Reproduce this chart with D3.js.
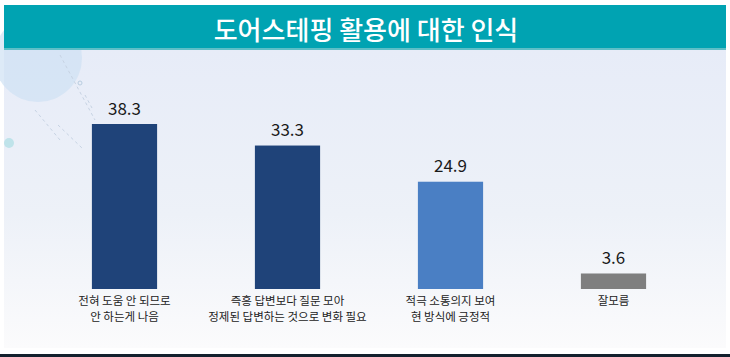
<!DOCTYPE html>
<html><head><meta charset="utf-8">
<script src="https://cdn.jsdelivr.net/npm/d3@7"></script>
<style>html,body{margin:0;padding:0;background:#fff;}svg{display:block;}</style>
</head><body>
<script>
const categories = ["전혀 도움 안 되므로\n안 하는게 나음", "즉흥 답변보다 질문 모아\n정제된 답변하는 것으로 변화 필요", "적극 소통의지 보여\n현 방식에 긍정적", "잘모름"];
const values = [38.3, 33.3, 24.9, 3.6];
const barColors = ["#1f4379", "#1f4379", "#4a7fc4", "#7f7f7f"];
const title = "도어스테핑 활용에 대한 인식";

const W = 730, H = 357;
const svg = d3.select("body").append("svg").attr("width", W).attr("height", H);
const defs = svg.append("defs");
const grad = defs.append("linearGradient").attr("id", "bg").attr("x1", 0).attr("x2", 0).attr("y1", 0).attr("y2", 1);
grad.append("stop").attr("offset", "0%").attr("stop-color", "#e7ecf8");
grad.append("stop").attr("offset", "55%").attr("stop-color", "#edf1f8");
grad.append("stop").attr("offset", "100%").attr("stop-color", "#fbfbfc");

svg.append("rect").attr("x", 4).attr("y", 50).attr("width", 722).attr("height", 298).attr("fill", "url(#bg)");
// decoration
svg.append("circle").attr("cx", 38).attr("cy", 58).attr("r", 44).attr("fill", "#cfe1f3").attr("opacity", 0.7);
svg.append("circle").attr("cx", 9).attr("cy", 143).attr("r", 5).attr("fill", "#bfe3ea");
svg.append("circle").attr("cx", 80).attr("cy", 83).attr("r", 2).attr("fill", "none").attr("stroke", "#b9cde0");
const deco = [[60,55,95,120],[35,110,60,140],[58,125,82,148],[85,95,92,108]];
svg.selectAll("line.deco").data(deco).join("line").attr("class","deco")
  .attr("x1", d=>d[0]).attr("y1", d=>d[1]).attr("x2", d=>d[2]).attr("y2", d=>d[3])
  .attr("stroke", "#c7d3e3").attr("stroke-width", 1).attr("stroke-dasharray", "3,3");

// title banner
svg.append("rect").attr("x", 4).attr("y", 5).attr("width", 722).attr("height", 45).attr("fill", "#00a3b2");
svg.append("rect").attr("x", 4).attr("y", 48).attr("width", 722).attr("height", 2).attr("fill", "#5dbfc7");
svg.append("text").attr("x", 366).attr("y", 28).attr("text-anchor", "middle").attr("dominant-baseline", "central")
  .attr("fill", "#fff").attr("font-family", "Noto Sans CJK KR").attr("font-weight", 500).attr("font-size", 26)
  .text(title);

// bottom line
svg.append("rect").attr("x", 0).attr("y", 354).attr("width", W).attr("height", 3).attr("fill", "#13202d");

const x = d3.scaleBand().domain(categories).range([43, 695]).paddingInner(0.6).paddingOuter(0.3);
const y = d3.scaleLinear().domain([0, 38.3]).range([289, 124]);

const g = svg.append("g");
g.selectAll("rect.bar").data(values).join("rect").attr("class", "bar")
  .attr("x", (d, i) => x(categories[i])).attr("width", x.bandwidth())
  .attr("y", d => y(d)).attr("height", d => y(0) - y(d))
  .attr("fill", (d, i) => barColors[i]);

g.selectAll("text.val").data(values).join("text").attr("class", "val")
  .attr("x", (d, i) => x(categories[i]) + x.bandwidth() / 2)
  .attr("y", d => y(d) - 9.5)
  .attr("text-anchor", "middle")
  .attr("font-family", "Noto Sans CJK KR").attr("font-size", 17).attr("fill", "#1a1a1a")
  .text(d => d.toFixed(1));

const xAxis = svg.append("g").attr("transform", `translate(0,${y(0)})`)
  .call(d3.axisBottom(x).tickSize(0).tickFormat(""));
xAxis.select(".domain").remove();
xAxis.selectAll(".tick").each(function(d) {
  const lines = d.split("\n");
  const t = d3.select(this).append("text").attr("text-anchor", "middle")
    .attr("font-family", "Noto Sans CJK KR").attr("font-size", 11.5).attr("fill", "#222");
  lines.forEach((l, i) => t.append("tspan").attr("x", 0).attr("y", 15.5 + i * 16).text(l));
});
</script>
</body></html>
